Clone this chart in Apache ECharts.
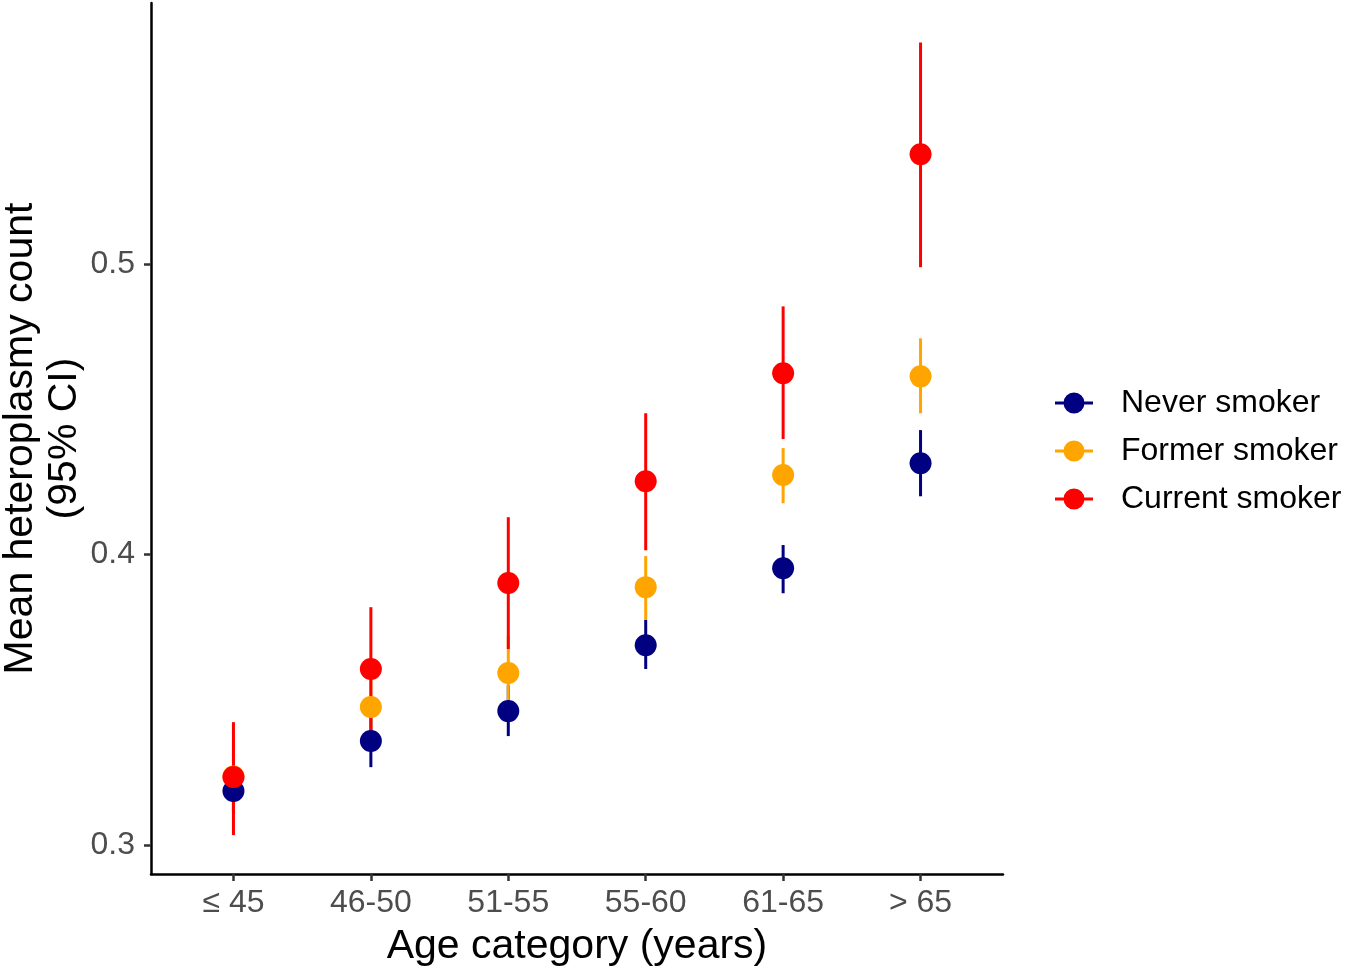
<!DOCTYPE html>
<html>
<head>
<meta charset="utf-8">
<script src="https://cdn.jsdelivr.net/npm/echarts@6/dist/echarts.min.js"></script>
<style>html,body{margin:0;padding:0;background:#fff}#c{width:1350px;height:967px}</style>
</head>
<body>
<div id="c"></div>
<script>
const categories = ['≤ 45', '46-50', '51-55', '55-60', '61-65', '> 65'];
const groups = ['Never smoker', 'Former smoker', 'Current smoker'];
const colors = ['#000080', '#FFA500', '#FF0000'];

const neverMean  = [0.3186, 0.3358, 0.3461, 0.3688, 0.3953, 0.4315];
const neverLow   = [0.3110, 0.3268, 0.3375, 0.3606, 0.3867, 0.4201];
const neverHigh  = [0.3260, 0.3450, 0.3550, 0.3775, 0.4033, 0.4429];

const formerMean = [0.3236, 0.3475, 0.3592, 0.3888, 0.4274, 0.4614];
const formerLow  = [0.3120, 0.3324, 0.3461, 0.3775, 0.4177, 0.4487];
const formerHigh = [0.3360, 0.3620, 0.3720, 0.3995, 0.4367, 0.4745];

const currentMean = [0.3234, 0.3606, 0.3902, 0.4253, 0.4625, 0.5379];
const currentLow  = [0.3034, 0.3389, 0.3675, 0.4015, 0.4398, 0.4990];
const currentHigh = [0.3423, 0.3819, 0.4129, 0.4487, 0.4855, 0.5764];

const yTicks = [0.3, 0.4, 0.5];

const means = [neverMean, formerMean, currentMean];
const lows = [neverLow, formerLow, currentLow];
const highs = [neverHigh, formerHigh, currentHigh];
const xPos = categories.map((c, i) => i + 1);

const FONT = 'Liberation Sans, Arial, sans-serif';
const legendIcon = 'path://M0,9.5H38V12.5H0Z M8.5,11a10.5,10.5 0 1,1 21,0a10.5,10.5 0 1,1 -21,0Z';

const series = [];
groups.forEach((g, k) => {
  series.push({
    name: g,
    type: 'custom',
    encode: { x: 0, y: [1, 2] },
    data: xPos.map((x, i) => [x, lows[k][i], highs[k][i]]),
    renderItem: function (params, api) {
      const x = api.value(0);
      const p1 = api.coord([x, api.value(1)]);
      const p2 = api.coord([x, api.value(2)]);
      return {
        type: 'line',
        shape: { x1: p1[0], y1: p1[1], x2: p2[0], y2: p2[1] },
        style: { stroke: colors[k], lineWidth: 3 }
      };
    },
    silent: true
  });
  series.push({
    name: g,
    type: 'scatter',
    symbol: 'circle',
    symbolSize: 22,
    itemStyle: { color: colors[k], opacity: 1 },
    data: xPos.map((x, i) => [x, means[k][i]]),
    silent: true
  });
});

const chart = echarts.init(document.getElementById('c'), null, { renderer: 'canvas' });
chart.setOption({
  animation: false,
  backgroundColor: '#fff',
  textStyle: { fontFamily: FONT },
  grid: { left: 151, right: 347, top: 3, bottom: 93, containLabel: false, outerBoundsMode: 'none' },
  legend: {
    orient: 'vertical',
    left: 1050,
    top: 382,
    itemWidth: 38,
    itemHeight: 22,
    itemGap: 16,
    selectedMode: false,
    data: groups.map((g, k) => ({ name: g, icon: legendIcon, itemStyle: { color: colors[k] } })),
    textStyle: { fontSize: 32, color: '#000', padding: [0, 0, 0, 23], fontFamily: FONT }
  },
  xAxis: {
    type: 'value',
    min: 0.4,
    max: 6.6,
    name: 'Age category (years)',
    nameLocation: 'middle',
    nameGap: 52,
    nameMoveOverlap: false,
    nameTextStyle: { fontSize: 41, color: '#000', fontFamily: FONT },
    axisLine: { show: true, onZero: false, lineStyle: { color: '#000', width: 2.5 } },
    axisTick: { show: true, customValues: xPos, length: 7, lineStyle: { color: '#333', width: 2.5 } },
    axisLabel: {
      customValues: xPos,
      formatter: v => categories[Math.round(v) - 1],
      fontSize: 32, color: '#4D4D4D', margin: 13,
      fontFamily: FONT
    },
    splitLine: { show: false }
  },
  yAxis: {
    type: 'value',
    min: 0.29,
    max: 0.59,
    name: 'Mean heteroplasmy count\n(95% CI)',
    nameLocation: 'middle',
    nameGap: 64,
    nameMoveOverlap: false,
    nameTextStyle: { fontSize: 41, color: '#000', lineHeight: 44, fontFamily: FONT },
    axisLine: { show: true, onZero: false, lineStyle: { color: '#000', width: 2.5 } },
    axisTick: { show: true, customValues: yTicks, length: 7, lineStyle: { color: '#333', width: 2.5 } },
    axisLabel: {
      customValues: yTicks,
      formatter: v => v.toFixed(1),
      fontSize: 32, color: '#4D4D4D', margin: 16,
      fontFamily: FONT
    },
    splitLine: { show: false }
  },
  series: series
});
</script>
</body>
</html>
